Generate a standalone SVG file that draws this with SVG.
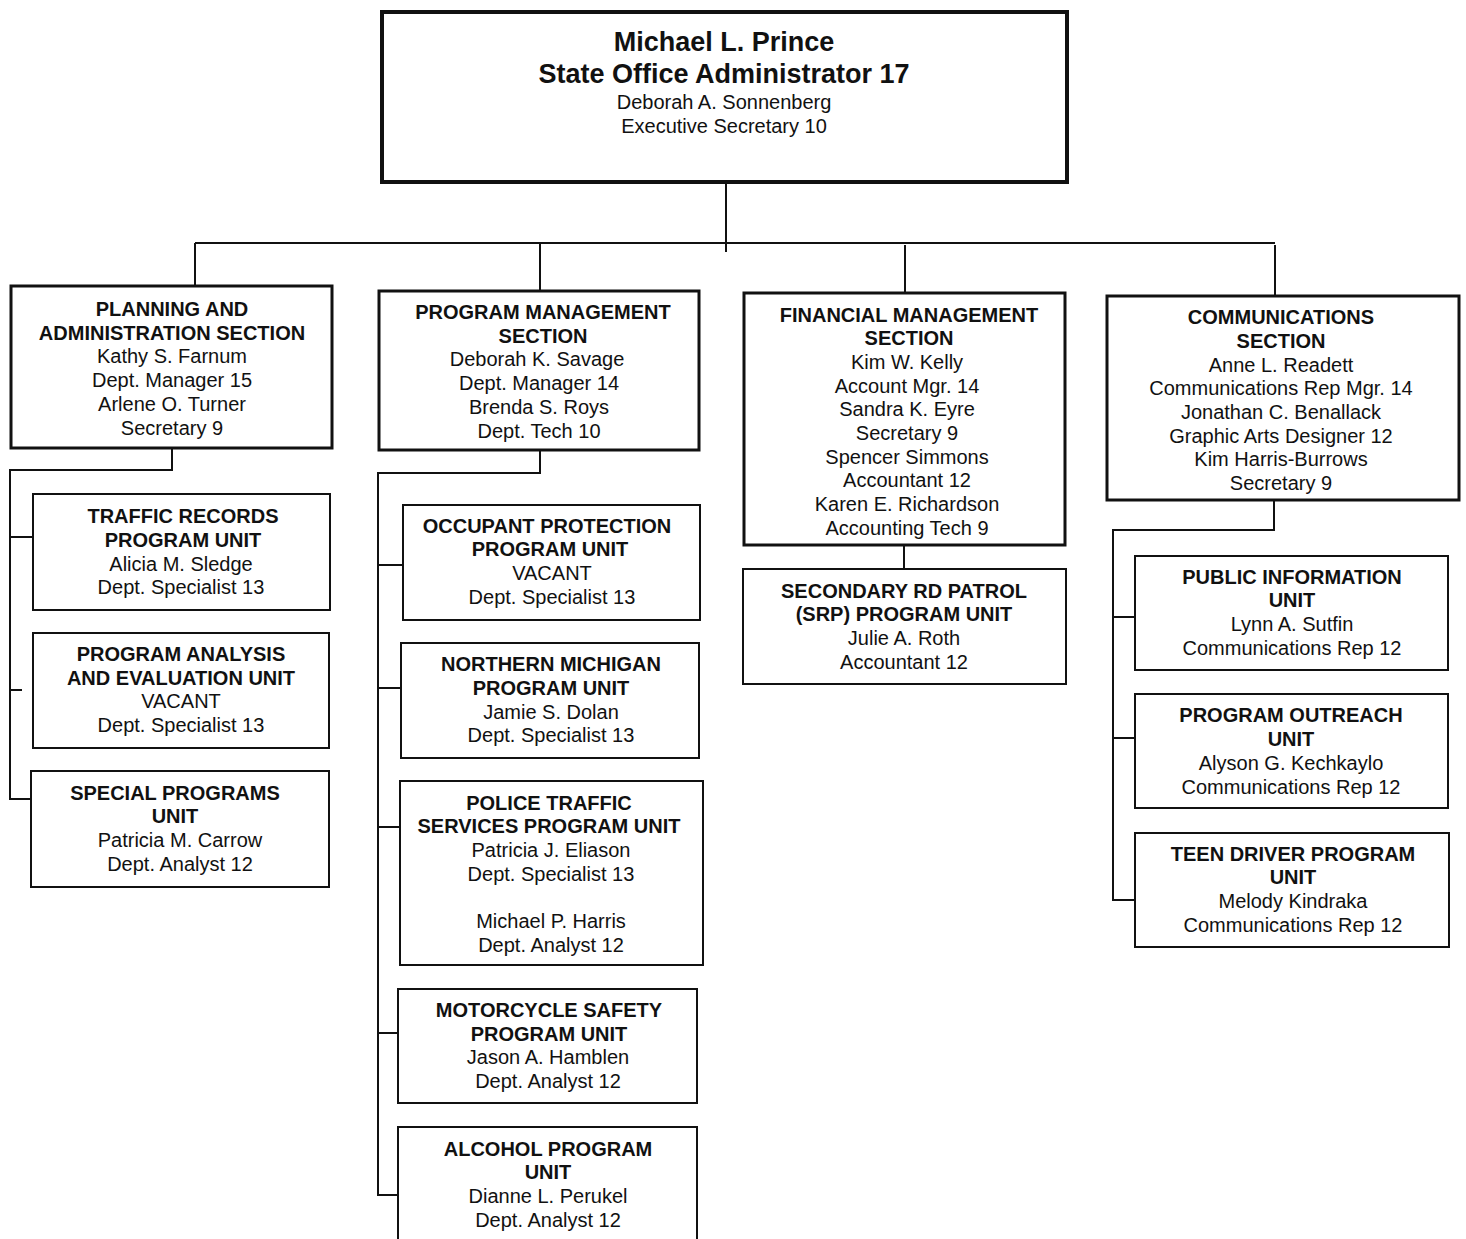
<svg xmlns="http://www.w3.org/2000/svg" width="1466" height="1239" viewBox="0 0 1466 1239">
<style>
text{font-family:"Liberation Sans",Arial,sans-serif;font-size:20px;fill:#111;text-anchor:middle}
.b{font-weight:bold}
.big{font-size:27px;font-weight:bold}
.top{fill:#fff;stroke:#111;stroke-width:4}
.sec{fill:#fff;stroke:#111;stroke-width:3}
.unit{fill:#fff;stroke:#111;stroke-width:2}
.con{fill:none;stroke:#111;stroke-width:2}
</style>
<rect width="1466" height="1239" fill="#fff"/>
<g id="connectors">
<path class="con" d="M726 184V252M195 243H1275M195 243V285M540 243V290M905 245V292M1275 245V295"/>
<path class="con" d="M172 449V470H10V799H32M10 537H33M10 690H22"/>
<path class="con" d="M540 451V473H378V1195H398M378 565H403M378 688H401M378 827H400M378 1033H398"/>
<path class="con" d="M904 546V568"/>
<path class="con" d="M1274 501V530H1113V900H1135M1113 617H1135M1113 738H1135"/>
</g>
<g id="admin">
<rect class="top" x="382" y="12" width="685" height="170"/>
<text class="big" x="724" y="51">Michael L. Prince</text>
<text class="big" x="724" y="83">State Office Administrator 17</text>
<text x="724" y="109">Deborah A. Sonnenberg</text>
<text x="724" y="133">Executive Secretary 10</text>
</g>
<g id="planning">
<rect class="sec" x="11" y="286" width="321" height="162"/>
<text class="b" x="172" y="316">PLANNING AND</text>
<text class="b" x="172" y="340">ADMINISTRATION SECTION</text>
<text x="172" y="363">Kathy S. Farnum</text>
<text x="172" y="387">Dept. Manager 15</text>
<text x="172" y="411">Arlene O. Turner</text>
<text x="172" y="435">Secretary 9</text>
</g>
<g id="progmgmt">
<rect class="sec" x="379" y="291" width="320" height="159"/>
<text class="b" x="543" y="319">PROGRAM MANAGEMENT</text>
<text class="b" x="543" y="343">SECTION</text>
<text x="537" y="366">Deborah K. Savage</text>
<text x="539" y="390">Dept. Manager 14</text>
<text x="539" y="414">Brenda S. Roys</text>
<text x="539" y="438">Dept. Tech 10</text>
</g>
<g id="financial">
<rect class="sec" x="744" y="293" width="321" height="252"/>
<text class="b" x="909" y="322">FINANCIAL MANAGEMENT</text>
<text class="b" x="909" y="345">SECTION</text>
<text x="907" y="369">Kim W. Kelly</text>
<text x="907" y="393">Account Mgr. 14</text>
<text x="907" y="416">Sandra K. Eyre</text>
<text x="907" y="440">Secretary 9</text>
<text x="907" y="464">Spencer Simmons</text>
<text x="907" y="487">Accountant 12</text>
<text x="907" y="511">Karen E. Richardson</text>
<text x="907" y="535">Accounting Tech 9</text>
</g>
<g id="comms">
<rect class="sec" x="1107" y="296" width="352" height="204"/>
<text class="b" x="1281" y="324">COMMUNICATIONS</text>
<text class="b" x="1281" y="348">SECTION</text>
<text x="1281" y="372">Anne L. Readett</text>
<text x="1281" y="395">Communications Rep Mgr. 14</text>
<text x="1281" y="419">Jonathan C. Benallack</text>
<text x="1281" y="443">Graphic Arts Designer 12</text>
<text x="1281" y="466">Kim Harris-Burrows</text>
<text x="1281" y="490">Secretary 9</text>
</g>
<g id="traffic">
<rect class="unit" x="33" y="494" width="297" height="116"/>
<text class="b" x="183" y="523">TRAFFIC RECORDS</text>
<text class="b" x="183" y="547">PROGRAM UNIT</text>
<text x="181" y="571">Alicia M. Sledge</text>
<text x="181" y="594">Dept. Specialist 13</text>
</g>
<g id="analysis">
<rect class="unit" x="33" y="633" width="296" height="115"/>
<text class="b" x="181" y="661">PROGRAM ANALYSIS</text>
<text class="b" x="181" y="685">AND EVALUATION UNIT</text>
<text x="181" y="708">VACANT</text>
<text x="181" y="732">Dept. Specialist 13</text>
</g>
<g id="special">
<rect class="unit" x="31" y="771" width="298" height="116"/>
<text class="b" x="175" y="800">SPECIAL PROGRAMS</text>
<text class="b" x="175" y="823">UNIT</text>
<text x="180" y="847">Patricia M. Carrow</text>
<text x="180" y="871">Dept. Analyst 12</text>
</g>
<g id="occupant">
<rect class="unit" x="403" y="505" width="297" height="115"/>
<text class="b" x="547" y="533">OCCUPANT PROTECTION</text>
<text class="b" x="550" y="556">PROGRAM UNIT</text>
<text x="552" y="580">VACANT</text>
<text x="552" y="604">Dept. Specialist 13</text>
</g>
<g id="northern">
<rect class="unit" x="401" y="643" width="298" height="115"/>
<text class="b" x="551" y="671">NORTHERN MICHIGAN</text>
<text class="b" x="551" y="695">PROGRAM UNIT</text>
<text x="551" y="719">Jamie S. Dolan</text>
<text x="551" y="742">Dept. Specialist 13</text>
</g>
<g id="police">
<rect class="unit" x="400" y="781" width="303" height="184"/>
<text class="b" x="549" y="810">POLICE TRAFFIC</text>
<text class="b" x="549" y="833">SERVICES PROGRAM UNIT</text>
<text x="551" y="857">Patricia J. Eliason</text>
<text x="551" y="881">Dept. Specialist 13</text>
<text x="551" y="928">Michael P. Harris</text>
<text x="551" y="952">Dept. Analyst 12</text>
</g>
<g id="motorcycle">
<rect class="unit" x="398" y="989" width="299" height="114"/>
<text class="b" x="549" y="1017">MOTORCYCLE SAFETY</text>
<text class="b" x="549" y="1041">PROGRAM UNIT</text>
<text x="548" y="1064">Jason A. Hamblen</text>
<text x="548" y="1088">Dept. Analyst 12</text>
</g>
<g id="alcohol">
<rect class="unit" x="398" y="1127" width="299" height="130"/>
<text class="b" x="548" y="1156">ALCOHOL PROGRAM</text>
<text class="b" x="548" y="1179">UNIT</text>
<text x="548" y="1203">Dianne L. Perukel</text>
<text x="548" y="1227">Dept. Analyst 12</text>
</g>
<g id="srp">
<rect class="unit" x="743" y="569" width="323" height="115"/>
<text class="b" x="904" y="598">SECONDARY RD PATROL</text>
<text class="b" x="904" y="621">(SRP) PROGRAM UNIT</text>
<text x="904" y="645">Julie A. Roth</text>
<text x="904" y="669">Accountant 12</text>
</g>
<g id="publicinfo">
<rect class="unit" x="1135" y="556" width="313" height="114"/>
<text class="b" x="1292" y="584">PUBLIC INFORMATION</text>
<text class="b" x="1292" y="607">UNIT</text>
<text x="1292" y="631">Lynn A. Sutfin</text>
<text x="1292" y="655">Communications Rep 12</text>
</g>
<g id="outreach">
<rect class="unit" x="1135" y="694" width="313" height="114"/>
<text class="b" x="1291" y="722">PROGRAM OUTREACH</text>
<text class="b" x="1291" y="746">UNIT</text>
<text x="1291" y="770">Alyson G. Kechkaylo</text>
<text x="1291" y="794">Communications Rep 12</text>
</g>
<g id="teen">
<rect class="unit" x="1135" y="833" width="314" height="114"/>
<text class="b" x="1293" y="861">TEEN DRIVER PROGRAM</text>
<text class="b" x="1293" y="884">UNIT</text>
<text x="1293" y="908">Melody Kindraka</text>
<text x="1293" y="932">Communications Rep 12</text>
</g>
</svg>
